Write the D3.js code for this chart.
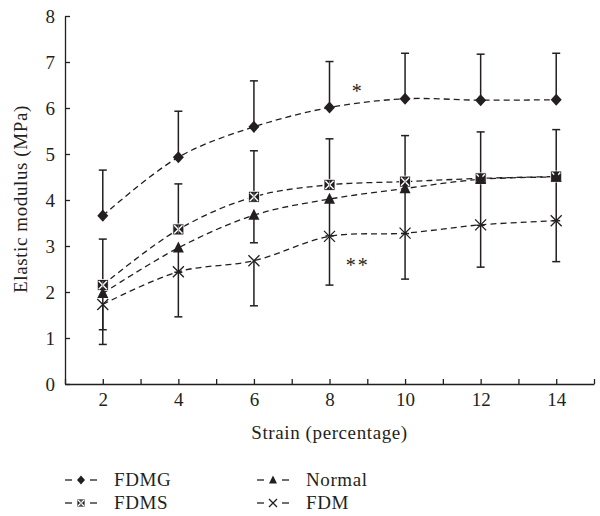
<!DOCTYPE html>
<html>
<head>
<meta charset="utf-8">
<script src="https://cdn.jsdelivr.net/npm/d3@7"></script>
<style>
  body { margin: 0; background: #fff; }
  svg text { font-family: "Liberation Serif", "DejaVu Serif", serif; fill: #231f20; }
</style>
</head>
<body>
<div id="chart"></div>
<script>
const strain = [2, 4, 6, 8, 10, 12, 14];
const yTicks = [0, 1, 2, 3, 4, 5, 6, 7, 8];
const xTickLabels = [2, 4, 6, 8, 10, 12, 14];

// series means and one-sided error bars (FDMG/FDMS upward, Normal/FDM downward)
const fdmg = [3.66, 4.93, 5.59, 6.01, 6.20, 6.17, 6.18];
const fdmgErr = [0.99, 1.00, 1.00, 1.00, 0.99, 1.00, 1.01];
const fdms = [2.15, 3.36, 4.07, 4.33, 4.40, 4.47, 4.51];
const fdmsErr = [1.00, 0.99, 1.00, 1.00, 1.00, 1.01, 1.02];
const normal = [1.97, 2.96, 3.67, 4.02, 4.25, 4.45, 4.50];
const normalErr = [0.79, 0.53, 0.60, 0.80, 0.98, 1.00, 0.95];
const fdm = [1.73, 2.44, 2.68, 3.21, 3.28, 3.46, 3.55];
const fdmErr = [0.87, 0.98, 0.98, 1.06, 1.00, 0.92, 0.89];

const seriesNames = ["FDMG", "FDMS", "Normal", "FDM"];

const margin = { top: 16, right: 6, bottom: 132, left: 65 };
const width = 600 - margin.left - margin.right;
const height = 516 - margin.top - margin.bottom;
const ink = "#231f20";
const fontSize = "19px";

const svg = d3.select("#chart")
  .append("svg")
  .attr("width", 600)
  .attr("height", 516);

const g = svg.append("g")
  .attr("transform", `translate(${margin.left}, ${margin.top})`);

const xScale = d3.scaleLinear().domain([1, 15]).range([0, width]);
const yScale = d3.scaleLinear().domain([0, 8]).range([height, 0]);

const series = [
  { name: "FDMG", values: fdmg, err: fdmgErr, dir: 1, marker: "diamond" },
  { name: "FDMS", values: fdms, err: fdmsErr, dir: 1, marker: "boxx" },
  { name: "Normal", values: normal, err: normalErr, dir: -1, marker: "triangle" },
  { name: "FDM", values: fdm, err: fdmErr, dir: -1, marker: "cross" }
];

// axes
const xAxis = g.append("g")
  .attr("transform", `translate(0, ${height})`)
  .call(d3.axisBottom(xScale)
    .tickValues(d3.range(1, 16))
    .tickSizeInner(-5)
    .tickSizeOuter(0)
    .tickPadding(9)
    .tickFormat(d => xTickLabels.includes(d) ? d : ""));

const yAxis = g.append("g")
  .call(d3.axisLeft(yScale)
    .tickValues(yTicks)
    .tickSizeInner(-5)
    .tickSizeOuter(0)
    .tickPadding(10));

[xAxis, yAxis].forEach(a => {
  a.selectAll("path, line").attr("stroke", ink).attr("stroke-width", 1.3);
  a.selectAll("text").style("font-size", fontSize).attr("fill", ink);
});

g.append("text")
  .attr("x", width / 2)
  .attr("y", height + 55)
  .attr("text-anchor", "middle")
  .style("font-size", fontSize)
  .style("letter-spacing", "0.6px")
  .text("Strain (percentage)");

g.append("text")
  .attr("transform", `translate(-38, ${height / 2 - 1}) rotate(-90)`)
  .attr("text-anchor", "middle")
  .style("font-size", fontSize)
  .style("letter-spacing", "0.6px")
  .text("Elastic modulus (MPa)");

// error bars
const capW = 8;
series.forEach(s => {
  const bars = g.append("g");
  s.values.forEach((v, i) => {
    const x = xScale(strain[i]);
    const end = v + s.dir * s.err[i];
    bars.append("line")
      .attr("x1", x).attr("x2", x)
      .attr("y1", yScale(v)).attr("y2", yScale(end))
      .attr("stroke", ink).attr("stroke-width", 1.5);
    bars.append("line")
      .attr("x1", x - capW / 2).attr("x2", x + capW / 2)
      .attr("y1", yScale(end)).attr("y2", yScale(end))
      .attr("stroke", ink).attr("stroke-width", 1.5);
  });
});

// dashed smoothed lines
const line = d3.line()
  .x((d, i) => xScale(strain[i]))
  .y(d => yScale(d))
  .curve(d3.curveCatmullRom.alpha(0.5));

series.forEach(s => {
  g.append("path")
    .datum(s.values)
    .attr("fill", "none")
    .attr("stroke", ink)
    .attr("stroke-width", 1.3)
    .attr("stroke-dasharray", "6,4")
    .attr("d", line);
});

const drawMarker = (sel, type, size) => {
  const r = size / 2;
  if (type === "diamond") {
    sel.append("path")
      .attr("d", `M0,${-r * 1.1}L${r},0L0,${r * 1.1}L${-r},0Z`)
      .attr("fill", ink);
  } else if (type === "triangle") {
    sel.append("path")
      .attr("d", `M0,${-r * 1.15}L${r},${r * 0.85}L${-r},${r * 0.85}Z`)
      .attr("fill", ink);
  } else if (type === "cross") {
    sel.append("path")
      .attr("d", `M${-r},${-r}L${r},${r}M${-r},${r}L${r},${-r}`)
      .attr("stroke", ink).attr("stroke-width", 1.3).attr("fill", "none");
  } else if (type === "boxx") {
    sel.append("rect")
      .attr("x", -r).attr("y", -r).attr("width", size).attr("height", size)
      .attr("fill", ink).attr("stroke", "#fff").attr("stroke-width", 0.8);
    const q = r * 0.75;
    sel.append("path")
      .attr("d", `M${-q},${-q}L${q},${q}M${-q},${q}L${q},${-q}`)
      .attr("stroke", "#fff").attr("stroke-width", 1.4);
    sel.append("path")
      .attr("d", `M0,${-q}L0,${q}`)
      .attr("stroke", "#888").attr("stroke-width", 0.8);
  }
};

// markers: FDMS below Normal so triangles overlap boxes at 12 and 14
seriesNames.forEach(name => {
  const s = series.find(d => d.name === name);
  s.values.forEach((v, i) => {
    const m = g.append("g")
      .attr("transform", `translate(${xScale(strain[i])}, ${yScale(v)})`);
    drawMarker(m, s.marker, 11);
  });
});

// significance marks
g.append("text")
  .attr("x", xScale(8.72))
  .attr("y", yScale(6.45) + 11)
  .attr("text-anchor", "middle")
  .style("font-size", "20px")
  .text("*");

g.append("text")
  .attr("x", xScale(8.75))
  .attr("y", yScale(2.6) + 8)
  .attr("text-anchor", "middle")
  .style("font-size", "20px")
  .style("letter-spacing", "2px")
  .text("**");

// legend
const legend = svg.append("g");
const legendPos = [
  { x: 65, y: 480 }, { x: 65, y: 503 }, { x: 257, y: 480 }, { x: 257, y: 503 }
];
seriesNames.forEach((name, i) => {
  const s = series.find(d => d.name === name);
  const p = legendPos[i];
  const item = legend.append("g").attr("transform", `translate(${p.x}, ${p.y})`);
  item.append("line").attr("x1", 0).attr("x2", 7).attr("y1", 0).attr("y2", 0)
    .attr("stroke", ink).attr("stroke-width", 1.3);
  item.append("line").attr("x1", 25).attr("x2", 32).attr("y1", 0).attr("y2", 0)
    .attr("stroke", ink).attr("stroke-width", 1.3);
  const m = item.append("g").attr("transform", "translate(16, 0)");
  drawMarker(m, s.marker, 8);
  item.append("text")
    .attr("x", 49)
    .attr("y", 6)
    .style("font-size", fontSize)
    .style("letter-spacing", "0.6px")
    .text(name);
});
</script>
</body>
</html>
